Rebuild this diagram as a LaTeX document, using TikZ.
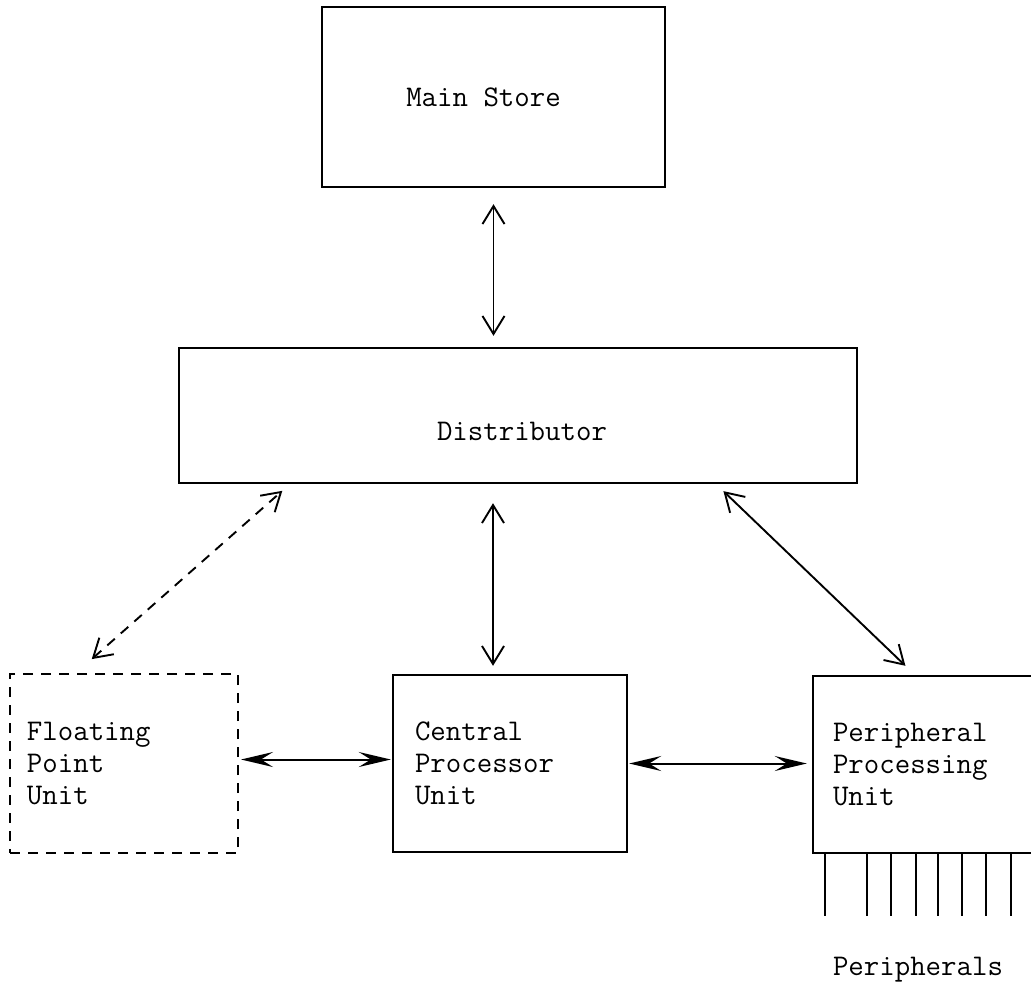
\documentclass[tikz,border=0pt]{standalone}
\usepackage{xcolor}
\usepackage{tikz}
\usetikzlibrary{positioning,calc,arrows.meta}

\begin{document}
\begin{tikzpicture}[x=1pt, y=-1pt,
    unitbox/.style={draw, line width=2.4pt, inner sep=0pt, font=\fontsize{30}{32}\selectfont\ttfamily},
    unitlabel/.style={font=\fontsize{30}{32}\selectfont\ttfamily},
    link/.style={line width=1.9pt, {Straight Barb[length=18pt,width=22pt]}-{Straight Barb[length=18pt,width=22pt]}},
    buslink/.style={line width=2pt, {Stealth[length=32pt,width=15pt,inset=12pt]}-{Stealth[length=32pt,width=15pt,inset=12pt]}}]
    \clip (0,0) rectangle (1031,986);
    \fill[white] (0,0) rectangle (1031,986);

    % store and distributor
    \node[unitbox, minimum width=343pt, minimum height=180pt,
        label={[unitlabel, name=mainlabel, xshift=-10pt]center:Main Store}] (main) at (493.5,97) {};
    \node[unitbox, minimum width=678pt, minimum height=135pt,
        label={[unitlabel, name=distlabel, xshift=4pt, yshift=-16pt]center:Distributor}] (dist) at (518,415.5) {};

    % processing units
    \node[unitbox, dash pattern=on 10pt off 8pt, line width=2pt, minimum height=179pt, text width=194pt, inner xsep=17pt, align=left] (fpu) at (124,763.5) {Floating\\Point\\Unit};
    \node[unitbox, minimum height=177pt, text width=190pt, inner xsep=22pt, align=left] (cpu) at (510,763.5) {Central\\Processor\\Unit};
    \node[unitbox, minimum height=177pt, text width=250pt, inner xsep=20pt, align=left] (ppu) at (958,764.5) {Peripheral\\Processing\\Unit};

    % peripheral lines
    \foreach \dx in {13,55,79,104,126,150,174,199}
        \draw[line width=2pt] ([xshift=\dx pt]ppu.south west) -- ++(0,62);
    \node[unitlabel, anchor=base] (periph) at (918,975) {Peripherals};

    % connections
    \coordinate (cpuin) at ($(cpu.north)+(-17,0)$);
    \coordinate (fpuout) at ($(fpu.east)+(0,-4)$);
    \draw[link, shorten <=16pt, shorten >=11pt] (main.south) -- (main.south |- dist.north);
    \draw[link, shorten <=8pt, shorten >=19pt] (cpuin) -- (cpuin |- dist.south);
    \draw[link, dash pattern=on 10pt off 8pt, shorten <=21pt, shorten >=10pt] ($(fpu.north)+(-48,0)$) -- ($(dist.south west)+(112,0)$);
    \draw[link, shorten <=10pt, shorten >=13pt] ($(dist.south east)+(-142,0)$) -- ($(ppu.north west)+(103,0)$);
    \draw[buslink, shorten <=2pt, shorten >=1pt] (fpuout) -- (fpuout -| cpu.west);
    \draw[buslink, shorten <=1pt, shorten >=5pt] (cpu.east) -- (cpu.east -| ppu.west);
\end{tikzpicture}
\end{document}
